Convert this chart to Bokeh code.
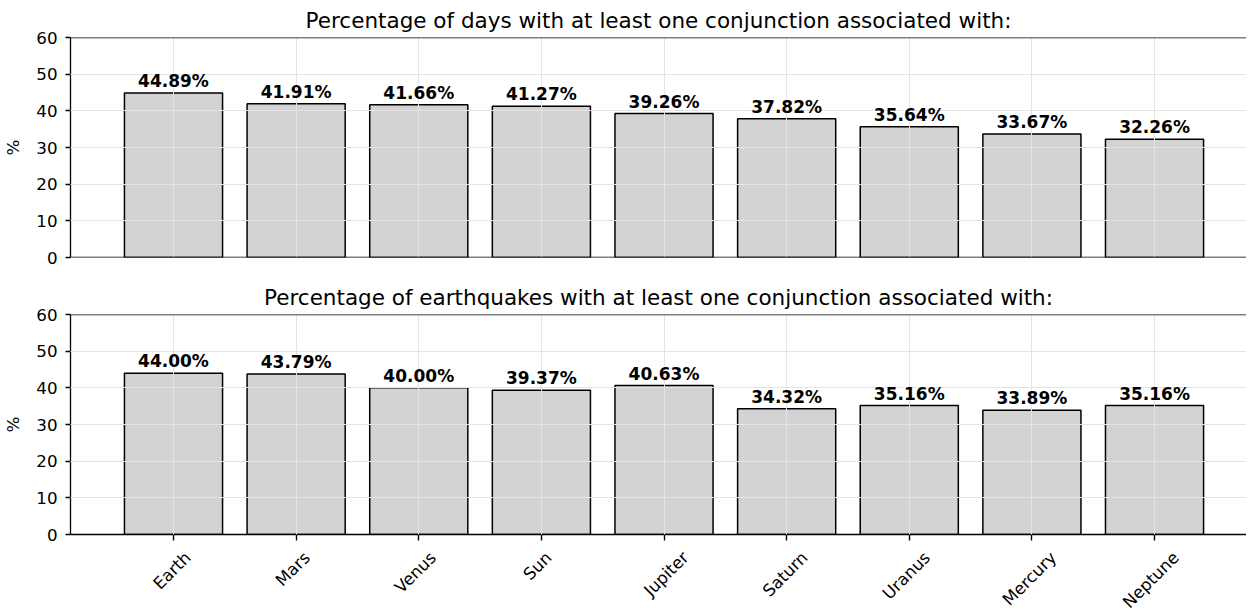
import math
from bokeh.plotting import figure
from bokeh.layouts import column
from bokeh.models import Range1d, FixedTicker, LabelSet, ColumnDataSource, Span, LinearAxis
from bokeh.core.properties import value
from bokeh.embed import file_html
from bokeh.resources import INLINE

planets = ["Earth", "Mars", "Venus", "Sun", "Jupiter", "Saturn", "Uranus", "Mercury", "Neptune"]
days_pct = [44.89, 41.91, 41.66, 41.27, 39.26, 37.82, 35.64, 33.67, 32.26]
quake_pct = [44.00, 43.79, 40.00, 39.37, 40.63, 34.32, 35.16, 33.89, 35.16]
y_ticks = [0, 10, 20, 30, 40, 50, 60]
titles = ["Percentage of days with at least one conjunction associated with:",
          "Percentage of earthquakes with at least one conjunction associated with:"]

FONT = "DejaVu Sans"
FS = "16.7px"
PX_PER_UNIT = 1176 / (8.75 + 0.84)


def make_fig(title, vals, bottom):
    xs = list(range(len(planets)))
    p = figure(frame_width=1176, frame_height=220,
               x_range=Range1d(-0.84, 8.75), y_range=Range1d(y_ticks[0], y_ticks[-1]),
               output_backend="svg", toolbar_location=None,
               min_border_left=59, min_border_right=0, min_border_top=30,
               min_border_bottom=66 if bottom else 20, title=title)
    p.outline_line_color = None
    p.background_fill_color = "white"
    p.border_fill_color = "white"
    p.title.text_font = FONT
    p.title.text_font_size = "21.5px"
    p.title.text_font_style = "normal"
    p.title.text_color = "black"
    p.title.align = "center"
    p.title.standoff = 10

    src = ColumnDataSource(dict(x=xs, v=vals, lab=[f"{v:.2f}%" for v in vals]))
    p.vbar(x="x", top="v", bottom=0, width=0.8, source=src,
           fill_color="#d3d3d3", line_color="black", line_width=1.5)

    # grid (drawn above bars like matplotlib)
    p.xgrid.ticker = FixedTicker(ticks=xs)
    p.ygrid.ticker = FixedTicker(ticks=y_ticks[1:-1])
    for g in (p.xgrid[0], p.ygrid[0]):
        g.grid_line_color = "#e4e4e4"
        g.grid_line_width = 1
        g.level = "annotation"

    # y axis
    ya = p.yaxis[0]
    ya.ticker = FixedTicker(ticks=y_ticks)
    ya.axis_label = "%"
    ya.axis_label_text_font = FONT
    ya.axis_label_text_font_size = FS
    ya.axis_label_text_font_style = "normal"
    ya.axis_label_text_color = "black"
    ya.axis_label_standoff = 10
    ya.major_label_text_font = FONT
    ya.major_label_text_font_size = FS
    ya.major_label_text_color = "black"
    ya.major_label_standoff = 8
    ya.major_tick_out = 5
    ya.major_tick_in = 0
    ya.minor_tick_out = 0
    ya.minor_tick_in = 0
    ya.axis_line_color = "black"
    ya.axis_line_width = 1.3
    ya.major_tick_line_color = "black"
    ya.major_tick_line_width = 1.3

    # x axis
    xa = p.xaxis[0]
    if bottom:
        # tick marks at the bar centres (no labels on this axis)
        xa.ticker = FixedTicker(ticks=xs)
        xa.major_label_text_font_size = "0px"
        xa.major_label_text_color = None
        xa.major_label_standoff = 0
        xa.major_tick_out = 6
        xa.major_tick_in = 0
        xa.minor_tick_out = 0
        xa.minor_tick_in = 0
        xa.major_tick_line_color = "black"
        xa.major_tick_line_width = 1.4
        xa.axis_line_color = "black"
        xa.axis_line_width = 1.3

        # labels centred like matplotlib's rotated tick labels: shift each
        # label position right by an amount depending on its length
        shifts = [(3.54 * len(n) - 3.5) / PX_PER_UNIT for n in planets]
        lab_pos = [x + s for x, s in zip(xs, shifts)]
        la = LinearAxis(ticker=FixedTicker(ticks=lab_pos))
        la.major_label_overrides = {lp: n for lp, n in zip(lab_pos, planets)}
        la.major_label_orientation = math.pi / 4
        la.major_label_text_font = FONT
        la.major_label_text_font_size = FS
        la.major_label_text_color = "black"
        la.major_label_standoff = 14
        la.major_tick_out = 0
        la.major_tick_in = 0
        la.minor_tick_out = 0
        la.minor_tick_in = 0
        la.axis_line_color = None
        p.add_layout(la, "below")
    else:
        xa.visible = False
        p.add_layout(Span(location=y_ticks[0], dimension="width",
                          line_color="black", line_width=1.3))

    # top spine
    p.add_layout(Span(location=y_ticks[-1], dimension="width",
                      line_color="black", line_width=1.3))

    p.add_layout(LabelSet(x="x", y="v", text="lab", source=src,
                          text_align="center", text_baseline="alphabetic",
                          y_offset=6, text_font=value(FONT), text_font_size="17px",
                          text_font_style="bold", text_color="black"))
    return p


p1 = make_fig(titles[0], days_pct, False)
p2 = make_fig(titles[1], quake_pct, True)
layout = column(p1, p2, spacing=0)

open("out.html", "w").write(file_html(layout, INLINE))
